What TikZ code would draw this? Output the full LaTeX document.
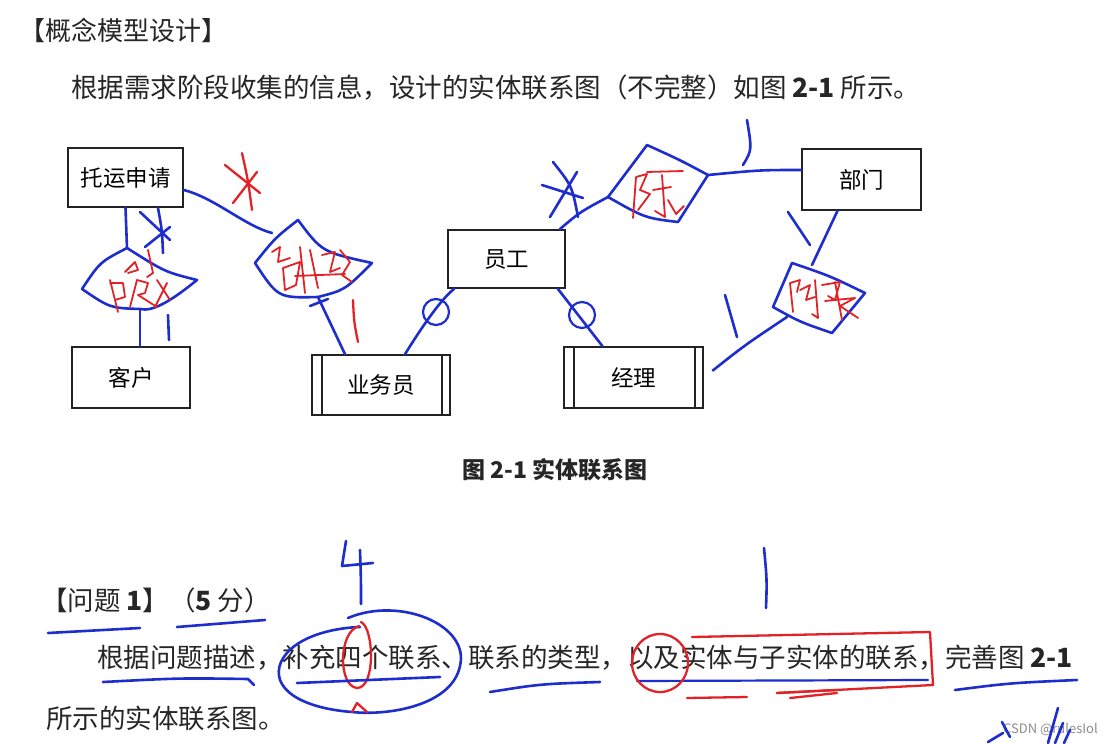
\documentclass[tikz,border=0pt]{standalone}
\usepackage{fontspec}
\newfontfamily\cjk{Noto Sans CJK SC}
\usepackage{xcolor}
\usetikzlibrary{positioning}
\definecolor{penblue}{RGB}{30,45,205}
\definecolor{penred}{RGB}{225,35,40}
\definecolor{boxgray}{RGB}{35,35,35}

\begin{document}
\begin{tikzpicture}[x=1pt,y=-1pt,
  entity/.style={draw=boxgray, line width=1.6pt, inner sep=0pt, font=\cjk\fontsize{22.5}{24}\selectfont},
  weakentity/.style={entity, path picture={
    \draw[boxgray, line width=1.3pt]
      ([xshift=10pt]path picture bounding box.north west) -- ([xshift=10pt]path picture bounding box.south west)
      ([xshift=-8pt]path picture bounding box.north east) -- ([xshift=-8pt]path picture bounding box.south east);}},
  txt/.style={anchor=west, inner sep=0pt, text=black!85, font=\cjk\fontsize{26.5}{28}\selectfont},
  pen/.style={draw=penblue, line width=2.6pt, line cap=round, line join=round},
  redpen/.style={pen, draw=penred, line width=2.3pt}]
\useasboundingbox[fill=white] (0,0) rectangle (1114,744);

% printed text
\node[txt, font=\cjk\fontsize{26}{28}\selectfont] (title) at (19,30) {【概念模型设计】};
\node[txt] (intro) at (71,88) {根据需求阶段收集的信息，设计的实体联系图（不完整）如图 \textbf{2-1} 所示。};
\node[inner sep=0pt, text=black!85, font=\cjk\bfseries\fontsize{23}{25}\selectfont] (fig) at (555,470) {图 2-1 实体联系图};
\node[txt] (qhead) at (41,600) {【问题 \textbf{1}】（\textbf{5} 分）};
\node[txt] (qline) at (97,658) {根据问题描述，补充四个联系、联系的类型，以及实体与子实体的联系，完善图 \textbf{2-1}};
\node[txt] (qlast) at (46,718) {所示的实体联系图。};
\node[anchor=west, inner sep=0pt, text=black!45, font=\cjk\fontsize{13}{14}\selectfont] (mark) at (1003,729) {CSDN @rulesIol};

% entities
\node[entity, minimum width=115pt, minimum height=59pt] (tuoyun) at (125.5,177.5) {托运申请};
\node[entity, minimum width=118pt, minimum height=61pt] (kehu) at (131,377.5) {客户};
\node[weakentity, minimum width=138pt, minimum height=60pt] (yewuyuan) at (381,385) {业务员};
\node[entity, minimum width=117pt, minimum height=58pt] (yuangong) at (506.5,259) {员工};
\node[weakentity, minimum width=139pt, minimum height=61pt] (jingli) at (633.5,377.5) {经理};
\node[entity, minimum width=119pt, minimum height=61pt] (bumen) at (861.5,179.5) {部门};

% hand drawn relationships
\coordinate (d1l) at (82,289); \coordinate (d1t) at (127,248);
\coordinate (d1r) at (197,280); \coordinate (d1b) at (140,309);
\coordinate (d2l) at (255,263); \coordinate (d2t) at (298,220);
\coordinate (d2r) at (372,263); \coordinate (d2b) at (318,297);
\coordinate (d3l) at (608,197); \coordinate (d3t) at (647,145);
\coordinate (d3r) at (708,175); \coordinate (d3b) at (678,222);
\coordinate (d4l) at (773,307); \coordinate (d4t) at (792,263);
\coordinate (d4r) at (865,293); \coordinate (d4b) at (832,333);
\coordinate (d2in) at (272,233); \coordinate (d4in) at (812,265);

\draw[pen] (d1l) .. controls (100,262) .. (d1t) .. controls (165,272) .. (d1r)
  .. controls (170,302) and (152,312) .. (d1b) .. controls (110,308) .. (d1l);
\draw[pen] (d2l) .. controls (275,238) .. (d2t) .. controls (322,252) .. (d2r)
  .. controls (345,290) .. (d2b) .. controls (278,298) .. (d2l);
\draw[pen] (310,306) -- (328,299);
\draw[pen] (d3l) -- (d3t) .. controls (680,160) .. (d3r) -- (d3b) .. controls (645,218) .. (d3l);
\draw[pen] (d4t) .. controls (830,276) .. (d4r) -- (d4b) .. controls (800,322) .. (d4l) -- (d4t);

\draw[pen] (tuoyun.south) -- (d1t);
\draw[pen] (d1b) -- (d1b |- kehu.north);
\draw[pen] ([yshift=-12.5pt]tuoyun.east) .. controls (215,198) and (245,226) .. (d2in);
\draw[pen] (d2b) -- ([xshift=-36pt]yewuyuan.north);
\draw[pen] ([xshift=24pt]yewuyuan.north) .. controls (420,330) and (440,300) .. ([xshift=7pt]yuangong.south west);
\draw[pen] ([xshift=-8pt]yuangong.south east) -- ([xshift=-31pt]jingli.north);
\draw[pen] ([xshift=-6pt]yuangong.north east) .. controls (580,212) .. (d3l);
\draw[pen] (d3r) .. controls (760,170) .. ([yshift=9.5pt]bumen.west);
\draw[pen] ([xshift=-24pt]bumen.south) -- (d4in);
\draw[pen] (787,317) .. controls (745,345) .. ([xshift=9pt,yshift=7pt]jingli.east);

% optional marks
\draw[pen, line width=2.2pt] (436,312) circle[radius=13];
\draw[pen, line width=2.2pt] (582,315) circle[radius=13];

% cardinality marks
\draw[pen] (140,212) -- (170,240) (158,208) .. controls (162,230) .. (163,253) (145,247) -- (170,227);
\draw[pen] (168,315) -- (169,340);
\draw[redpen] (225,165) -- (260,193) (242,153) .. controls (248,180) .. (252,210) (233,203) -- (257,172);
\draw[redpen] (353,300) .. controls (354,322) .. (358,342);
\draw[pen] (542,185) -- (583,198) (553,162) .. controls (572,186) .. (578,217) (550,217) -- (577,172);
\draw[pen] (747,120) .. controls (752,150) .. (743,165);
\draw[pen] (788,212) -- (810,245);
\draw[pen] (725,295) -- (737,337);

% scribbles in the diamonds
\draw[redpen, line width=1.8pt] (110,280) -- (118,312) (110,283) -- (123,283) -- (125,297) -- (115,300)
  (125,272) -- (135,262) -- (138,270) -- (128,273) (148,250) -- (153,273) -- (147,277)
  (130,307) -- (137,280) -- (148,283) -- (145,293) -- (138,295) -- (157,307)
  (157,280) -- (170,300) (167,283) -- (155,307);
\draw[redpen, line width=1.8pt] (272,252) -- (280,247) -- (278,262) -- (290,258)
  (283,268) -- (300,262) -- (296,285) -- (285,290) -- (283,268) (300,247) -- (305,293)
  (310,250) -- (318,288) (322,255) -- (335,252) -- (330,272) -- (340,268)
  (340,250) -- (350,262) -- (342,275) -- (352,282) (295,276) -- (345,274);
\draw[redpen, line width=1.8pt] (636,177) -- (647,174) -- (640,190) -- (650,194) -- (638,210)
  (636,177) -- (633,218) (647,172) -- (683,171) (662,175) -- (665,217) -- (655,211)
  (653,190) -- (671,187) (668,200) -- (676,214) -- (684,206);
\draw[redpen, line width=1.8pt] (790,283) -- (793,312) (790,283) -- (800,280) -- (797,292)
  (800,290) -- (810,285) -- (806,300) -- (815,297) (815,280) -- (818,318) -- (812,314)
  (822,285) -- (840,282) -- (835,300) -- (828,296) (825,301) -- (855,298) -- (840,306) -- (858,318)
  (835,282) -- (842,320);

% annotations on the question
\draw[pen] (346,541) -- (342,566) -- (373,563) (360,550) .. controls (361,580) .. (361,604);
\draw[pen] (348,618) .. controls (400,596) and (470,625) .. (460,666)
  .. controls (452,705) and (390,716) .. (352,712)
  .. controls (300,708) and (270,688) .. (281,662)
  .. controls (292,638) and (330,628) .. (360,627);
\draw[redpen] (359,626) .. controls (338,632) and (338,686) .. (357,688)
  .. controls (376,688) and (374,628) .. (361,622);
\draw[redpen] (352,712) -- (357,703) -- (367,712);
\draw[pen] (48,633) -- (140,628);
\draw[pen] (177,627) -- (265,620);
\draw[pen] (103,682) .. controls (180,678) .. (248,679) -- (254,685);
\draw[pen] (297,683) -- (440,677);
\draw[pen] (490,692) .. controls (540,684) .. (600,682);
\draw[pen, line width=2.2pt] (637,681) -- (928,680);
\draw[pen] (955,690) .. controls (1010,683) .. (1077,680);
\draw[pen] (764,548) .. controls (767,580) .. (766,608);
\draw[redpen] (660,663) ellipse[x radius=28, y radius=29];
\draw[redpen] (692,637) -- (930,632) -- (933,685) -- (777,693);
\draw[redpen] (687,698) -- (747,697) (777,693) -- (837,690) (790,698) -- (837,693);
\draw[pen] (1002,722) -- (1010,737) (988,742) -- (1003,733) (1058,708) -- (1048,743)
  (1063,723) -- (1055,743) (1070,730) -- (1064,743);
\end{tikzpicture}
\end{document}
